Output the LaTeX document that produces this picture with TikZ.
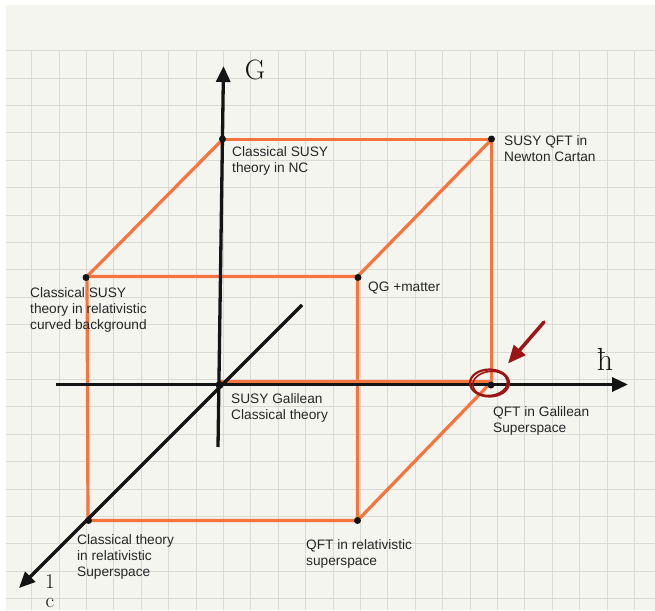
\documentclass[tikz,border=0pt]{standalone}
\usepackage{fontspec}
\newfontfamily\labelfont{Liberation Sans}
\usetikzlibrary{arrows.meta}
\definecolor{paper}{HTML}{F5F5F0}
\definecolor{gridc}{HTML}{DADAD4}
\definecolor{edge}{HTML}{F7743D}
\definecolor{ink}{HTML}{141414}
\definecolor{txt}{HTML}{262626}
\definecolor{redmark}{HTML}{9C1414}
\begin{document}
\begin{tikzpicture}[x=1pt,y=-1pt,
  lbl/.style={anchor=north west, inner sep=0pt, align=left, font=\labelfont\fontsize{13.7}{16}\selectfont, text=txt},
  cube/.style={draw=edge, line width=3.2pt, line cap=round, line join=round},
  axis/.style={draw=ink, line width=3.3pt, -{Triangle[length=16pt,width=14pt]}},
  vdot/.style={fill=ink, circle, inner sep=0pt, minimum size=7pt},
  gridline/.style={draw=gridc, line width=1.1pt},
  hand/.style={text=ink, inner sep=0pt}
]
\useasboundingbox (0,0) rectangle (655,610);
% paper
\fill[white] (0,0) rectangle (655,610);
\fill[paper] (6,5) rectangle (655,610);
\foreach \i in {0,...,22} \draw[gridline] ({31.7+27.4*\i},50.7) -- ({31.7+27.4*\i},610);
\foreach \j in {0,...,20} \draw[gridline] (6,{50.7+27.4*\j}) -- (655,{50.7+27.4*\j});

% cube vertices
\coordinate (A) at (222.5,139.5);
\coordinate (B) at (491.5,139.5);
\coordinate (C) at (87,276.5);
\coordinate (D) at (357.5,276.5);
\coordinate (O) at (220,382);
\coordinate (E) at (491.5,382);
\coordinate (F) at (88,520.5);
\coordinate (H) at (357.5,520.5);

% cube edges
\draw[cube] (A) -- (B) -- (E);
\draw[cube] (A) -- (C) -- (D) -- (B);
\draw[cube] (C) -- (F) -- (H) -- (D);
\draw[cube] (H) -- (E);
\draw[cube] (O) -- (E);

% axes
\coordinate (Gtail) at (218,447);
\coordinate (Gtip) at (223.5,66);
\coordinate (Htail) at (56,384.5);
\coordinate (Htip) at (628,384.5);
\coordinate (Ctail) at (302,305);
\coordinate (Ctip) at (19,588);
\draw[axis] (Gtail) -- (Gtip);
\draw[axis] (Htail) -- (Htip);
\draw[axis] (Ctail) -- (Ctip);

% vertex dots
\node[vdot] (dA) at (222.5,139) {};
\node[vdot] (dB) at (491.5,139) {};
\node[vdot] (dC) at (86,277.5) {};
\node[vdot] (dD) at (358,277.5) {};
\node[vdot, minimum size=8pt] (dO) at (219.5,385) {};
\node[vdot] (dE) at (491,385) {};
\node[vdot] (dF) at (88.5,520.5) {};
\node[vdot] (dH) at (357.5,520.5) {};

% labels
\node[lbl] (lA) at (232,146) {Classical SUSY\\theory in NC};
\node[lbl] (lB) at (504,135) {SUSY QFT in\\Newton Cartan};
\node[lbl] (lC) at (30,287.3) {Classical SUSY\\theory in relativistic\\curved background};
\node[lbl] (lD) at (368,282) {QG +matter};
\node[lbl] (lO) at (231,393.5) {SUSY Galilean\\Classical theory};
\node[lbl] (lE) at (493,406) {QFT in Galilean\\Superspace};
\node[lbl] (lF) at (77,534.3) {Classical theory\\in relativistic\\Superspace};
\node[lbl] (lH) at (306,539.3) {QFT in relativistic\\superspace};

% axis names
\node[hand, font=\fontsize{28}{28}\selectfont] (gname) at (255,70) {G};
\node[hand, font=\fontsize{32}{32}\selectfont] (hname) at (605,359) {ħ};
\node[hand, anchor=north, align=center, font=\fontsize{21}{19}\selectfont] (cname) at (50,574) {1\\c};

% red annotation
\draw[redmark, line width=2.2pt] (489.5,383) ellipse [x radius=19.5, y radius=13.5];
\draw[redmark, line width=1.6pt, rotate around={8:(489.5,383)}] (490,383.5) ellipse [x radius=17.5, y radius=12];
\coordinate (Rtail) at (544,322);
\coordinate (Rtip) at (508,363.5);
\draw[redmark, line width=3.5pt, line cap=round, -{Triangle[length=18pt,width=15pt]}] (Rtail) -- (Rtip);
\end{tikzpicture}
\end{document}
